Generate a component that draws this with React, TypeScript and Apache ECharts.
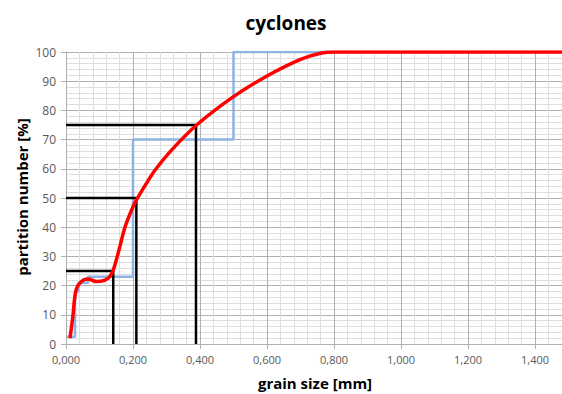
import React, { useEffect, useRef } from "react";
import * as echarts from "echarts";

const titleText = "cyclones";
const xName = "grain size [mm]";
const yName = "partition number [%]";

// red smooth curve (grain size mm, partition %)
const redX = [0.012, 0.02, 0.03, 0.045, 0.065, 0.09, 0.115, 0.13, 0.141, 0.16, 0.176, 0.2, 0.211, 0.24, 0.266, 0.315, 0.39, 0.5, 0.6, 0.7, 0.76, 0.8, 0.9, 1.0, 1.2, 1.5];
const redY = [2, 9, 18.5, 21.3, 22.3, 21.4, 21.8, 23, 25.3, 33, 40, 47, 49.5, 55, 59.6, 66.4, 75, 84.7, 91.8, 97.5, 99.6, 100, 100, 100, 100, 100];

// blue step line
const blueX = [0.003, 0.027, 0.037, 0.066, 0.2, 0.5, 1.5];
const blueY = [2.5, 18, 21, 23, 70, 100, 100];

// black reference lines: partition level and the matching grain size
const refLevels = [25, 50, 75];
const refSizes = [0.141, 0.21, 0.388];

export default function App() {
  const ref = useRef<HTMLDivElement>(null);
  useEffect(() => {
    if (!ref.current) return;
    const chart = echarts.init(ref.current, undefined, { renderer: "svg" });
    const font = "'Open Sans', 'Noto Sans', sans-serif";
    const majorColor = "#b0b0b0";
    const minorColor = "#dedede";
    const refSeries = refLevels.map((lv, i) => ({
      type: "line",
      data: [[0, lv], [refSizes[i], lv], [refSizes[i], 0]],
      showSymbol: false,
      lineStyle: { color: "#000000", width: 2.5 },
      z: 3,
      silent: true,
    }));
    chart.setOption({
      animation: false,
      title: {
        text: titleText,
        left: 281,
        textAlign: "center",
        top: 8,
        textStyle: { fontFamily: font, fontSize: 19, fontWeight: "bold", color: "#000" },
      },
      grid: { left: 66, top: 52, bottom: 50, width: 536, containLabel: false },
      xAxis: {
        type: "value",
        min: 0,
        max: 1.6,
        interval: 0.2,
        axisLine: { show: true, lineStyle: { color: majorColor, width: 1 } },
        axisTick: { show: true, length: 5, lineStyle: { color: majorColor } },
        axisLabel: {
          margin: 10,
          fontFamily: font,
          fontSize: 11,
          color: "#595959",
          formatter: (v: number) => (v > 1.45 ? "" : v.toFixed(3).replace(".", ",")),
        },
        splitLine: { show: true, lineStyle: { color: majorColor, width: 1 } },
        minorTick: { show: false, splitNumber: 5 },
        minorSplitLine: { show: true, lineStyle: { color: minorColor, width: 1 } },
      },
      yAxis: {
        type: "value",
        min: 0,
        max: 100,
        interval: 10,
        axisLine: { show: true, lineStyle: { color: majorColor, width: 1 } },
        axisTick: { show: true, length: 5, lineStyle: { color: majorColor } },
        axisLabel: { margin: 10, fontFamily: font, fontSize: 12, color: "#595959" },
        splitLine: { show: true, lineStyle: { color: majorColor, width: 1 } },
        minorTick: { show: false, splitNumber: 5 },
        minorSplitLine: { show: true, lineStyle: { color: minorColor, width: 1 } },
      },
      graphic: [
        {
          type: "text",
          x: 315,
          y: 383,
          style: {
            text: xName,
            align: "center",
            verticalAlign: "middle",
            font: `bold 15px ${font}`,
            fill: "#000",
          },
        },
        {
          type: "text",
          x: 22,
          y: 197,
          rotation: Math.PI / 2,
          style: {
            text: yName,
            align: "center",
            verticalAlign: "middle",
            font: `bold 15px ${font}`,
            fill: "#000",
          },
        },
      ],
      series: [
        {
          type: "line",
          data: blueX.map((x, i) => [x, blueY[i]]),
          step: "end",
          showSymbol: false,
          lineStyle: { color: "#8db4e2", width: 2.5 },
          z: 2,
          silent: true,
        },
        ...refSeries,
        {
          type: "line",
          data: redX.map((x, i) => [x, redY[i]]),
          smooth: 0.35,
          showSymbol: false,
          lineStyle: { color: "#ff0000", width: 3.5 },
          z: 4,
          silent: true,
        },
      ],
    });
    return () => chart.dispose();
  }, []);
  return (
    <div
      style={{ position: "fixed", left: 0, top: 0, width: 562, height: 394, overflow: "hidden", background: "#fff" }}
    >
      <div ref={ref} style={{ width: 620, height: 394 }} />
    </div>
  );
}
